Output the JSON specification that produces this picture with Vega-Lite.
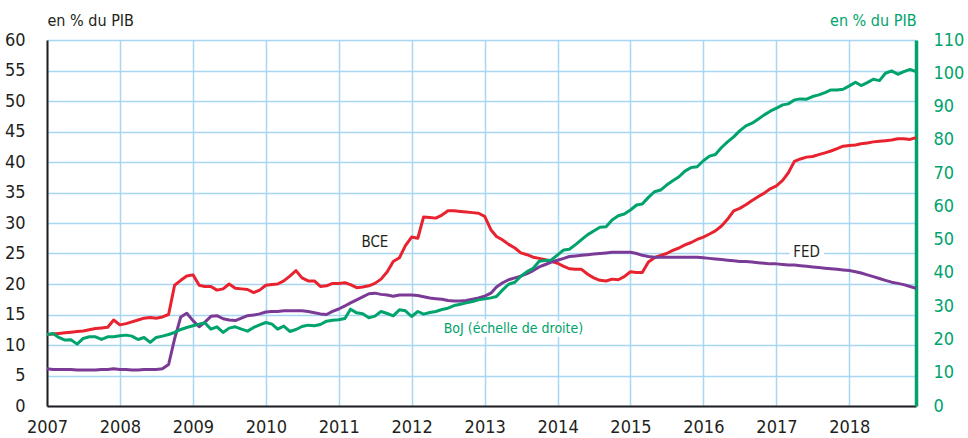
{
"$schema":"https://vega.github.io/schema/vega-lite/v6.json",
"width":869,"height":366,
"autosize":{"type":"none"},
"padding":{"left":47,"top":40,"right":52,"bottom":32},
"config":{
 "view":{"stroke":null},
 "font":"DejaVu Sans Condensed, sans-serif",
 "axis":{"ticks":false,"labelFontSize":18,"labelColor":"#231f20","domainColor":"#231f20","domainWidth":2,"gridColor":"#a9d6f1","gridWidth":1.5,"titleFontWeight":"normal","titleFontSize":16}
},
"datasets":{
"main":[
{"d":"2007-01-01","BCE":11.7,"FED":6.1,"BoJ":21.5},
{"d":"2007-02-01","BCE":11.8,"FED":6.0,"BoJ":21.8},
{"d":"2007-03-01","BCE":11.9,"FED":6.0,"BoJ":20.6},
{"d":"2007-04-01","BCE":12.0,"FED":6.0,"BoJ":19.8},
{"d":"2007-05-01","BCE":12.1,"FED":6.0,"BoJ":19.9},
{"d":"2007-06-01","BCE":12.2,"FED":5.9,"BoJ":18.6},
{"d":"2007-07-01","BCE":12.3,"FED":5.9,"BoJ":20.3},
{"d":"2007-08-01","BCE":12.5,"FED":5.9,"BoJ":20.8},
{"d":"2007-09-01","BCE":12.7,"FED":5.9,"BoJ":20.8},
{"d":"2007-10-01","BCE":12.8,"FED":6.0,"BoJ":20.0},
{"d":"2007-11-01","BCE":12.9,"FED":6.0,"BoJ":20.8},
{"d":"2007-12-01","BCE":14.1,"FED":6.1,"BoJ":20.8},
{"d":"2008-01-01","BCE":13.3,"FED":6.0,"BoJ":21.1},
{"d":"2008-02-01","BCE":13.5,"FED":6.0,"BoJ":21.3},
{"d":"2008-03-01","BCE":13.8,"FED":5.9,"BoJ":21.0},
{"d":"2008-04-01","BCE":14.1,"FED":5.9,"BoJ":20.0},
{"d":"2008-05-01","BCE":14.4,"FED":6.0,"BoJ":20.6},
{"d":"2008-06-01","BCE":14.5,"FED":6.0,"BoJ":19.1},
{"d":"2008-07-01","BCE":14.4,"FED":6.0,"BoJ":20.6},
{"d":"2008-08-01","BCE":14.6,"FED":6.1,"BoJ":21.0},
{"d":"2008-09-01","BCE":15.0,"FED":6.8,"BoJ":21.5},
{"d":"2008-10-01","BCE":19.8,"FED":11.0,"BoJ":22.1},
{"d":"2008-11-01","BCE":20.6,"FED":14.6,"BoJ":23.0},
{"d":"2008-12-01","BCE":21.3,"FED":15.2,"BoJ":23.6},
{"d":"2009-01-01","BCE":21.5,"FED":14.0,"BoJ":24.1},
{"d":"2009-02-01","BCE":19.8,"FED":13.0,"BoJ":24.6},
{"d":"2009-03-01","BCE":19.6,"FED":13.7,"BoJ":25.0},
{"d":"2009-04-01","BCE":19.6,"FED":14.7,"BoJ":23.1},
{"d":"2009-05-01","BCE":19.0,"FED":14.8,"BoJ":23.8},
{"d":"2009-06-01","BCE":19.2,"FED":14.3,"BoJ":22.1},
{"d":"2009-07-01","BCE":20.0,"FED":14.1,"BoJ":23.4},
{"d":"2009-08-01","BCE":19.3,"FED":14.0,"BoJ":23.8},
{"d":"2009-09-01","BCE":19.2,"FED":14.4,"BoJ":23.1},
{"d":"2009-10-01","BCE":19.1,"FED":14.8,"BoJ":22.5},
{"d":"2009-11-01","BCE":18.6,"FED":14.9,"BoJ":23.6},
{"d":"2009-12-01","BCE":19.0,"FED":15.1,"BoJ":24.4},
{"d":"2010-01-01","BCE":19.8,"FED":15.4,"BoJ":25.1},
{"d":"2010-02-01","BCE":19.9,"FED":15.5,"BoJ":24.6},
{"d":"2010-03-01","BCE":20.0,"FED":15.5,"BoJ":23.1},
{"d":"2010-04-01","BCE":20.5,"FED":15.6,"BoJ":24.0},
{"d":"2010-05-01","BCE":21.3,"FED":15.6,"BoJ":22.4},
{"d":"2010-06-01","BCE":22.2,"FED":15.6,"BoJ":23.0},
{"d":"2010-07-01","BCE":21.0,"FED":15.6,"BoJ":23.9},
{"d":"2010-08-01","BCE":20.5,"FED":15.5,"BoJ":24.3},
{"d":"2010-09-01","BCE":20.5,"FED":15.3,"BoJ":24.1},
{"d":"2010-10-01","BCE":19.6,"FED":15.1,"BoJ":24.5},
{"d":"2010-11-01","BCE":19.7,"FED":15.0,"BoJ":25.5},
{"d":"2010-12-01","BCE":20.1,"FED":15.5,"BoJ":25.8},
{"d":"2011-01-01","BCE":20.1,"FED":15.9,"BoJ":25.9},
{"d":"2011-02-01","BCE":20.2,"FED":16.4,"BoJ":26.3},
{"d":"2011-03-01","BCE":19.9,"FED":16.9,"BoJ":29.1},
{"d":"2011-04-01","BCE":19.4,"FED":17.4,"BoJ":28.0},
{"d":"2011-05-01","BCE":19.5,"FED":17.9,"BoJ":27.7},
{"d":"2011-06-01","BCE":19.7,"FED":18.4,"BoJ":26.5},
{"d":"2011-07-01","BCE":20.1,"FED":18.5,"BoJ":27.0},
{"d":"2011-08-01","BCE":20.8,"FED":18.3,"BoJ":28.4},
{"d":"2011-09-01","BCE":22.0,"FED":18.2,"BoJ":27.8},
{"d":"2011-10-01","BCE":23.7,"FED":18.0,"BoJ":27.1},
{"d":"2011-11-01","BCE":24.3,"FED":18.2,"BoJ":28.9},
{"d":"2011-12-01","BCE":26.3,"FED":18.2,"BoJ":28.6},
{"d":"2012-01-01","BCE":27.7,"FED":18.2,"BoJ":26.9},
{"d":"2012-02-01","BCE":27.5,"FED":18.1,"BoJ":28.4},
{"d":"2012-03-01","BCE":31.0,"FED":17.9,"BoJ":27.6},
{"d":"2012-04-01","BCE":30.9,"FED":17.7,"BoJ":28.1},
{"d":"2012-05-01","BCE":30.8,"FED":17.6,"BoJ":28.4},
{"d":"2012-06-01","BCE":31.3,"FED":17.5,"BoJ":29.0},
{"d":"2012-07-01","BCE":32.0,"FED":17.3,"BoJ":29.4},
{"d":"2012-08-01","BCE":32.0,"FED":17.2,"BoJ":30.2},
{"d":"2012-09-01","BCE":31.9,"FED":17.2,"BoJ":30.6},
{"d":"2012-10-01","BCE":31.8,"FED":17.3,"BoJ":31.0},
{"d":"2012-11-01","BCE":31.7,"FED":17.5,"BoJ":31.4},
{"d":"2012-12-01","BCE":31.6,"FED":17.7,"BoJ":31.9},
{"d":"2013-01-01","BCE":31.1,"FED":18.0,"BoJ":32.2},
{"d":"2013-02-01","BCE":28.9,"FED":18.5,"BoJ":32.5},
{"d":"2013-03-01","BCE":27.8,"FED":19.5,"BoJ":32.9},
{"d":"2013-04-01","BCE":27.2,"FED":20.2,"BoJ":34.9},
{"d":"2013-05-01","BCE":26.5,"FED":20.7,"BoJ":36.6},
{"d":"2013-06-01","BCE":25.9,"FED":21.0,"BoJ":37.2},
{"d":"2013-07-01","BCE":25.1,"FED":21.3,"BoJ":39.0},
{"d":"2013-08-01","BCE":24.8,"FED":21.7,"BoJ":40.4},
{"d":"2013-09-01","BCE":24.4,"FED":22.2,"BoJ":41.4},
{"d":"2013-10-01","BCE":24.2,"FED":22.8,"BoJ":43.5},
{"d":"2013-11-01","BCE":24.0,"FED":23.2,"BoJ":43.7},
{"d":"2013-12-01","BCE":23.7,"FED":23.6,"BoJ":43.9},
{"d":"2014-01-01","BCE":23.4,"FED":23.9,"BoJ":45.4},
{"d":"2014-02-01","BCE":22.9,"FED":24.2,"BoJ":46.9},
{"d":"2014-03-01","BCE":22.5,"FED":24.5,"BoJ":47.1},
{"d":"2014-04-01","BCE":22.4,"FED":24.6,"BoJ":48.5},
{"d":"2014-05-01","BCE":22.4,"FED":24.7,"BoJ":50.0},
{"d":"2014-06-01","BCE":21.6,"FED":24.8,"BoJ":51.5},
{"d":"2014-07-01","BCE":21.0,"FED":24.9,"BoJ":52.6},
{"d":"2014-08-01","BCE":20.6,"FED":25.0,"BoJ":53.7},
{"d":"2014-09-01","BCE":20.5,"FED":25.1,"BoJ":53.9},
{"d":"2014-10-01","BCE":20.8,"FED":25.2,"BoJ":55.9},
{"d":"2014-11-01","BCE":20.7,"FED":25.2,"BoJ":57.2},
{"d":"2014-12-01","BCE":21.2,"FED":25.2,"BoJ":57.7},
{"d":"2015-01-01","BCE":22.0,"FED":25.2,"BoJ":58.9},
{"d":"2015-02-01","BCE":21.9,"FED":25.0,"BoJ":60.4},
{"d":"2015-03-01","BCE":21.9,"FED":24.7,"BoJ":60.7},
{"d":"2015-04-01","BCE":23.6,"FED":24.5,"BoJ":62.7},
{"d":"2015-05-01","BCE":24.3,"FED":24.4,"BoJ":64.4},
{"d":"2015-06-01","BCE":24.7,"FED":24.4,"BoJ":64.9},
{"d":"2015-07-01","BCE":25.0,"FED":24.4,"BoJ":66.4},
{"d":"2015-08-01","BCE":25.5,"FED":24.4,"BoJ":67.7},
{"d":"2015-09-01","BCE":25.9,"FED":24.4,"BoJ":68.9},
{"d":"2015-10-01","BCE":26.4,"FED":24.4,"BoJ":70.6},
{"d":"2015-11-01","BCE":26.8,"FED":24.4,"BoJ":71.7},
{"d":"2015-12-01","BCE":27.3,"FED":24.4,"BoJ":71.9},
{"d":"2016-01-01","BCE":27.7,"FED":24.3,"BoJ":73.7},
{"d":"2016-02-01","BCE":28.2,"FED":24.2,"BoJ":75.1},
{"d":"2016-03-01","BCE":28.7,"FED":24.1,"BoJ":75.6},
{"d":"2016-04-01","BCE":29.5,"FED":24.0,"BoJ":77.7},
{"d":"2016-05-01","BCE":30.6,"FED":23.9,"BoJ":79.4},
{"d":"2016-06-01","BCE":32.0,"FED":23.8,"BoJ":80.9},
{"d":"2016-07-01","BCE":32.4,"FED":23.7,"BoJ":82.7},
{"d":"2016-08-01","BCE":33.0,"FED":23.7,"BoJ":84.2},
{"d":"2016-09-01","BCE":33.7,"FED":23.6,"BoJ":85.0},
{"d":"2016-10-01","BCE":34.3,"FED":23.5,"BoJ":86.2},
{"d":"2016-11-01","BCE":34.9,"FED":23.4,"BoJ":87.5},
{"d":"2016-12-01","BCE":35.6,"FED":23.3,"BoJ":88.6},
{"d":"2017-01-01","BCE":36.1,"FED":23.3,"BoJ":89.5},
{"d":"2017-02-01","BCE":37.0,"FED":23.2,"BoJ":90.5},
{"d":"2017-03-01","BCE":38.2,"FED":23.1,"BoJ":90.8},
{"d":"2017-04-01","BCE":40.1,"FED":23.1,"BoJ":92.0},
{"d":"2017-05-01","BCE":40.5,"FED":23.0,"BoJ":92.3},
{"d":"2017-06-01","BCE":40.8,"FED":22.9,"BoJ":92.2},
{"d":"2017-07-01","BCE":40.9,"FED":22.8,"BoJ":93.0},
{"d":"2017-08-01","BCE":41.2,"FED":22.7,"BoJ":93.5},
{"d":"2017-09-01","BCE":41.5,"FED":22.6,"BoJ":94.2},
{"d":"2017-10-01","BCE":41.8,"FED":22.5,"BoJ":95.0},
{"d":"2017-11-01","BCE":42.2,"FED":22.4,"BoJ":95.0},
{"d":"2017-12-01","BCE":42.6,"FED":22.3,"BoJ":95.2},
{"d":"2018-01-01","BCE":42.7,"FED":22.2,"BoJ":96.2},
{"d":"2018-02-01","BCE":42.8,"FED":22.0,"BoJ":97.3},
{"d":"2018-03-01","BCE":43.0,"FED":21.8,"BoJ":96.3},
{"d":"2018-04-01","BCE":43.1,"FED":21.5,"BoJ":97.2},
{"d":"2018-05-01","BCE":43.3,"FED":21.2,"BoJ":98.2},
{"d":"2018-06-01","BCE":43.4,"FED":20.9,"BoJ":97.8},
{"d":"2018-07-01","BCE":43.5,"FED":20.6,"BoJ":100.0},
{"d":"2018-08-01","BCE":43.6,"FED":20.3,"BoJ":100.7},
{"d":"2018-09-01","BCE":43.8,"FED":20.1,"BoJ":99.7},
{"d":"2018-10-01","BCE":43.8,"FED":19.9,"BoJ":100.5},
{"d":"2018-11-01","BCE":43.7,"FED":19.6,"BoJ":101.2},
{"d":"2018-12-01","BCE":44.0,"FED":19.3,"BoJ":100.5}
],
"notes":[
{"d":"2011-07-01","v":26.9,"label":"BCE"},
{"d":"2017-06-01","v":25.2,"label":"FED"}
],
"notesBoJ":[
{"d":"2013-05-25","v":12.7,"label":"BoJ (échelle de droite)"}
]
},
"encoding":{
 "x":{"field":"d","type":"temporal",
  "scale":{"type":"utc","domain":[{"year":2007,"month":1,"date":1,"utc":true},{"year":2018,"month":12,"date":1,"utc":true}]},
  "axis":{"title":null,"format":"%Y","tickCount":{"interval":"year","step":1},"grid":true,"labelPadding":12,"labelFlush":false,"labelOverlap":false}
 }
},
"layer":[
 {"layer":[
  {"data":{"name":"main"},"mark":{"type":"line","color":"#e8222f","strokeWidth":3,"strokeJoin":"round"},
   "encoding":{"y":{"field":"BCE","type":"quantitative","title":"en % du PIB","scale":{"domain":[0,60]},
    "axis":{"orient":"left","values":[0,5,10,15,20,25,30,35,40,45,50,55,60],"labelOverlap":false,"grid":true,"labelPadding":22,"titleAngle":0,"titleAlign":"left","titleBaseline":"alphabetic","titleX":0,"titleY":-15,"titleColor":"#231f20"}}}},
  {"data":{"name":"main"},"mark":{"type":"line","color":"#7b3a96","strokeWidth":3,"strokeJoin":"round"},
   "encoding":{"y":{"field":"FED","type":"quantitative","title":"en % du PIB","scale":{"domain":[0,60]},
    "axis":{"orient":"left","values":[0,5,10,15,20,25,30,35,40,45,50,55,60],"labelOverlap":false,"grid":true,"labelPadding":22,"titleAngle":0,"titleAlign":"left","titleBaseline":"alphabetic","titleX":0,"titleY":-15,"titleColor":"#231f20"}}}},
  {"data":{"name":"notes"},"mark":{"type":"text","fontSize":15,"color":"white","stroke":"white","strokeWidth":10,"strokeJoin":"round"},
   "encoding":{"y":{"field":"v","type":"quantitative","title":"en % du PIB","scale":{"domain":[0,60]},
    "axis":{"orient":"left","values":[0,5,10,15,20,25,30,35,40,45,50,55,60],"labelOverlap":false,"grid":true,"labelPadding":22,"titleAngle":0,"titleAlign":"left","titleBaseline":"alphabetic","titleX":0,"titleY":-15,"titleColor":"#231f20"}},"text":{"field":"label"}}},
  {"data":{"name":"notes"},"mark":{"type":"text","fontSize":15,"color":"#231f20"},
   "encoding":{"y":{"field":"v","type":"quantitative","title":"en % du PIB","scale":{"domain":[0,60]},
    "axis":{"orient":"left","values":[0,5,10,15,20,25,30,35,40,45,50,55,60],"labelOverlap":false,"grid":true,"labelPadding":22,"titleAngle":0,"titleAlign":"left","titleBaseline":"alphabetic","titleX":0,"titleY":-15,"titleColor":"#231f20"}},"text":{"field":"label"}}},
  {"data":{"name":"notesBoJ"},"mark":{"type":"text","fontSize":14,"color":"white","stroke":"white","strokeWidth":8,"strokeJoin":"round"},
   "encoding":{"y":{"field":"v","type":"quantitative","title":"en % du PIB","scale":{"domain":[0,60]},
    "axis":{"orient":"left","values":[0,5,10,15,20,25,30,35,40,45,50,55,60],"labelOverlap":false,"grid":true,"labelPadding":22,"titleAngle":0,"titleAlign":"left","titleBaseline":"alphabetic","titleX":0,"titleY":-15,"titleColor":"#231f20"}},"text":{"field":"label"}}},
  {"data":{"name":"notesBoJ"},"mark":{"type":"text","fontSize":14,"color":"#00a36c"},
   "encoding":{"y":{"field":"v","type":"quantitative","title":"en % du PIB","scale":{"domain":[0,60]},
    "axis":{"orient":"left","values":[0,5,10,15,20,25,30,35,40,45,50,55,60],"labelOverlap":false,"grid":true,"labelPadding":22,"titleAngle":0,"titleAlign":"left","titleBaseline":"alphabetic","titleX":0,"titleY":-15,"titleColor":"#231f20"}},"text":{"field":"label"}}}
 ]},
 {"data":{"name":"main"},"mark":{"type":"line","color":"#00a36c","strokeWidth":3,"strokeJoin":"round"},
  "encoding":{"y":{"field":"BoJ","type":"quantitative","title":"en % du PIB","scale":{"domain":[0,110]},
   "axis":{"orient":"right","values":[0,10,20,30,40,50,60,70,80,90,100,110],"labelOverlap":false,"grid":false,"labelPadding":17,"labelColor":"#00a36c","domainColor":"#00a36c","domainWidth":3.5,"titleColor":"#00a36c","titleAngle":0,"titleAlign":"right","titleBaseline":"alphabetic","titleX":0,"titleY":-15}}}}
],
"resolve":{"scale":{"y":"independent"}}
}
